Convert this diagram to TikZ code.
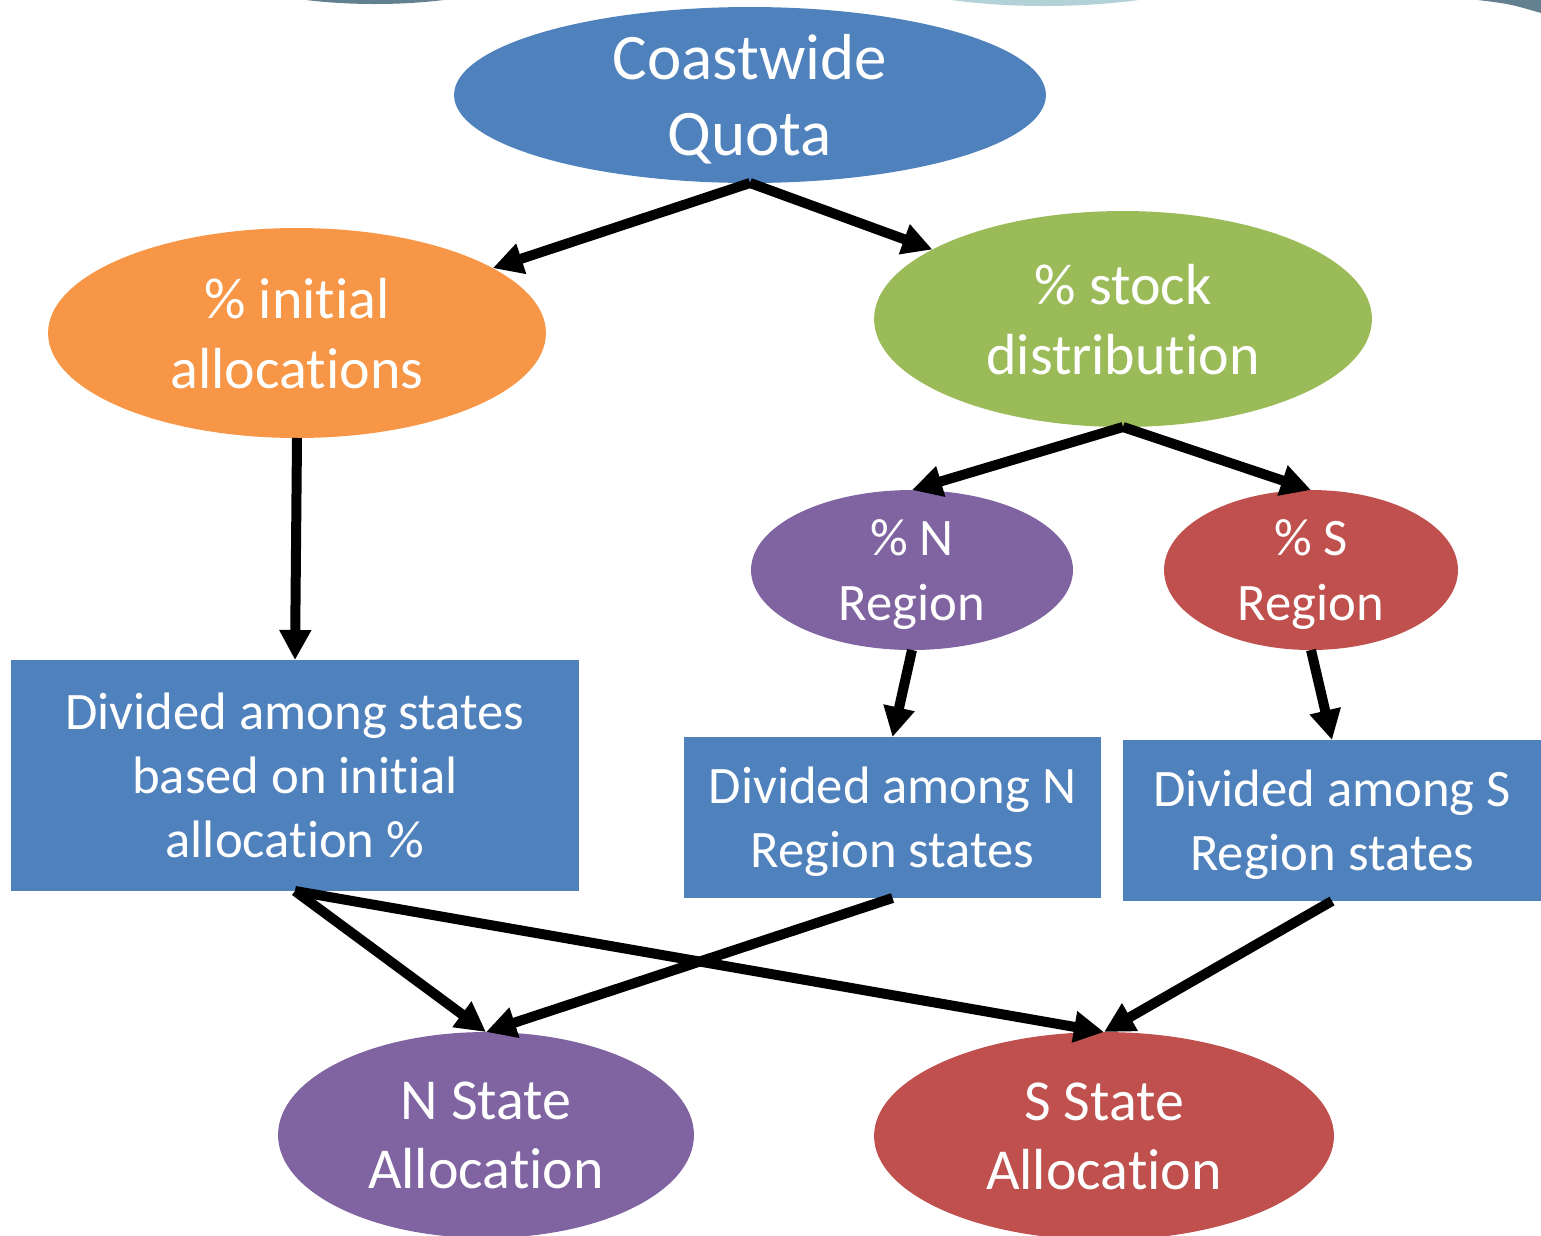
\documentclass[tikz,border=0pt]{standalone}
\usepackage{fontspec}
\setmainfont{Carlito}
\usetikzlibrary{shapes.geometric,arrows.meta}
\definecolor{qblue}{HTML}{4F81BD}
\definecolor{qorange}{HTML}{F79646}
\definecolor{qgreen}{HTML}{9BBB59}
\definecolor{qpurple}{HTML}{8064A2}
\definecolor{qred}{HTML}{C0504D}
\definecolor{slate}{HTML}{62808F}
\definecolor{paleteal}{HTML}{B3D2D7}
% keeps t and i apart (no ligature)
\newcommand{\ti}{t\kern0pt i}
\begin{document}
\begin{tikzpicture}[x=0.02cm,y=-0.02cm,
    bubble/.style={ellipse,inner sep=0pt,outer sep=0pt,text=white,align=center,text depth=0pt},
    block/.style={rectangle,fill=qblue,inner sep=0pt,outer sep=0pt,text=white,align=center,text depth=0pt},
    flow/.style={line width=0.2cm,-{Triangle[length=0.6cm,width=0.6cm]}}]
    \useasboundingbox (0,0) rectangle (1541,1235);

    % slide decoration along the top edge
    \fill[slate] (375,-40) ellipse (165 and 44);
    \fill[paleteal] (1045,-60) ellipse (225 and 66);
    \fill[slate] (1478,0) .. controls (1510,4) .. (1541,13) -- (1541,0) -- cycle;

    \node[bubble,fill=qblue,minimum width=11.84cm,minimum height=3.52cm,font=\fontsize{37}{43}\selectfont] (coast) at (750,95) {Coastwide\\Quota};
    \node[bubble,fill=qorange,minimum width=9.96cm,minimum height=4.2cm,font=\fontsize{33}{40}\selectfont] (initial) at (297,333) {\% ini\ti al\\alloca\ti ons};
    \node[bubble,fill=qgreen,minimum width=9.96cm,minimum height=4.32cm,font=\fontsize{33}{40}\selectfont] (stock) at (1123,319) {\% stock\\distribu\ti on};
    \node[bubble,fill=qpurple,minimum width=6.44cm,minimum height=3.2cm,font=\fontsize{30}{36.5}\selectfont] (nreg) at (912,570) {\% N\\Region};
    \node[bubble,fill=qred,minimum width=5.88cm,minimum height=3.2cm,font=\fontsize{30}{36.5}\selectfont] (sreg) at (1311,570) {\% S\\Region};

    \node[block,minimum width=11.36cm,minimum height=4.62cm,font=\fontsize{30}{36.5}\selectfont] (divall) at (295,775.5) {Divided among states\\based on ini\ti al\\alloca\ti on \%};
    \node[block,minimum width=8.34cm,minimum height=3.22cm,font=\fontsize{30}{36.5}\selectfont] (divn) at (892.5,817.5) {Divided among N\\Region states};
    \node[block,minimum width=8.36cm,minimum height=3.22cm,font=\fontsize{30}{36.5}\selectfont] (divs) at (1332,820.5) {Divided among S\\Region states};

    \node[bubble,fill=qpurple,minimum width=8.32cm,minimum height=4.12cm,font=\fontsize{33}{39}\selectfont] (nstate) at (486,1135) {N State\\Alloca\ti on};
    \node[bubble,fill=qred,minimum width=9.2cm,minimum height=4.16cm,font=\fontsize{33}{39}\selectfont] (sstate) at (1104,1136) {S State\\Alloca\ti on};

    \draw[flow] (coast.south) -- (initial);
    \draw[flow] (coast.south) -- (stock);
    \draw[flow] (initial.south) -- (divall.north);
    \draw[flow] (stock.south) -- (nreg.north);
    \draw[flow] (stock.south) -- (sreg.north);
    \draw[flow] (nreg.south) -- (divn.north);
    \draw[flow] (sreg.south) -- (divs.north);
    \draw[flow] (divall.south) -- (nstate.north);
    \draw[flow] (divn.south) -- (nstate.north);
    \draw[flow] (divall.south) -- (sstate.north);
    \draw[flow] (divs.south) -- (sstate.north);
\end{tikzpicture}
\end{document}
